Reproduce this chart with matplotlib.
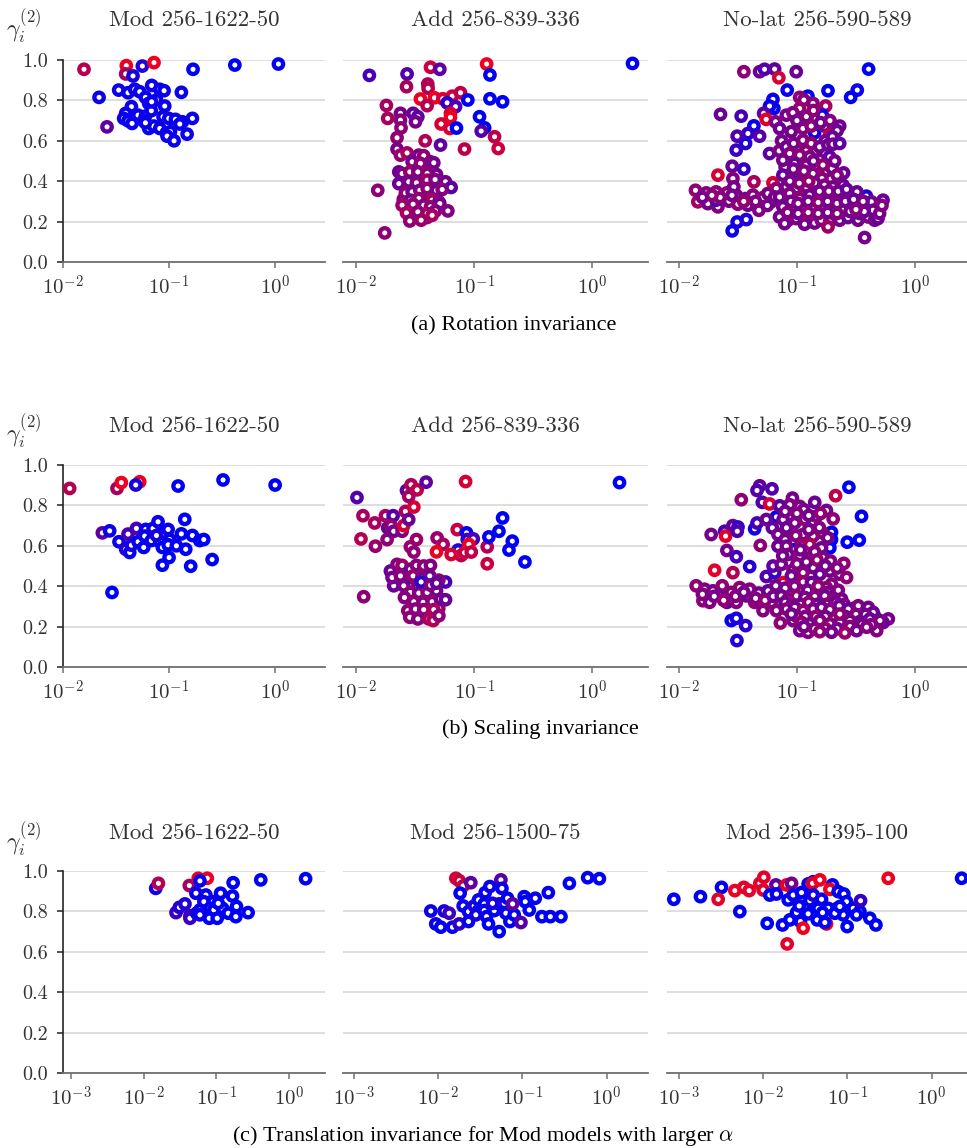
import numpy as np
import matplotlib
matplotlib.use("Agg")
import matplotlib.pyplot as plt
from matplotlib.colors import LinearSegmentedColormap
from matplotlib.ticker import NullLocator

plt.rcParams['mathtext.fontset'] = 'cm'
plt.rcParams['font.family'] = ['cmr10', 'DejaVu Serif']
plt.rcParams['axes.formatter.use_mathtext'] = True

# ---------------- data: (log10 x, gamma, redness) ----------------
rot_mod = [(-1.802, .954, .75), (-1.403, .972, 1), (-1.409, .931, .7), (-1.340, .921, .1),
           (-1.252, .970, .15), (-1.142, .987, 1), (-0.774, .954, 0), (-0.380, .975, 0),
           (0.031, .980, 0), (-1.660, .815, .05), (-1.585, .669, .4), (-1.475, .851, .05),
           (-1.387, .838, .05), (-1.324, .855, .05), (-1.277, .843, .05), (-1.164, .874, .05),
           (-1.088, .855, .05), (-1.047, .848, .05), (-0.884, .840, .05), (-1.223, .815, .05),
           (-1.192, .785, .05), (-1.119, .802, .05), (-1.355, .769, .05), (-1.409, .736, .05),
           (-1.428, .711, .05), (-1.387, .699, .05), (-1.349, .686, .05), (-1.292, .727, .05),
           (-1.223, .722, .05), (-1.239, .699, .05), (-1.167, .749, .05), (-1.041, .772, .05),
           (-1.057, .719, .05), (-1.003, .711, .05), (-0.940, .706, .05), (-0.874, .694, .05),
           (-0.899, .683, .05), (-0.780, .711, .05), (-1.192, .661, .05), (-1.145, .673, .05),
           (-1.088, .661, .05), (-1.025, .640, .05), (-0.987, .645, .05), (-1.019, .623, .05),
           (-0.953, .600, .05), (-0.830, .633, .05), (-1.223, .689, .05), (-1.164, .793, .05)]

rot_add = [(-1.887, .924, .3), (-1.568, .931, .35), (-1.573, .868, .7), (-1.370, .964, .85),
           (-1.291, .954, .4), (-1.393, .881, .75), (-1.390, .860, .75), (-0.895, .980, 1),
           (-0.867, .926, 0), (0.339, .983, 0), (-1.455, .807, 1), (-1.336, .813, 1),
           (-1.266, .808, .9), (-1.186, .821, .85), (-1.116, .838, .8), (-1.054, .802, 0),
           (-0.867, .808, 0), (-0.760, .793, 0), (-1.398, .774, .75), (-1.229, .788, .2),
           (-1.158, .769, .3), (-1.743, .775, .7), (-1.732, .711, .7), (-1.624, .736, .5),
           (-1.517, .736, .45), (-1.477, .719, .4), (-1.497, .694, .5), (-1.624, .702, .55),
           (-1.619, .664, .6), (-1.201, .736, .9), (-1.201, .716, 1), (-1.280, .683, .9),
           (-1.206, .661, .9), (-1.150, .663, 0), (-0.955, .719, 0), (-0.912, .664, 0),
           (-0.941, .648, .35), (-0.828, .620, .8), (-0.797, .562, .85), (-1.082, .559, .8),
           (-1.415, .600, .75), (-1.285, .579, .4), (-1.653, .615, .6), (-1.653, .559, .5),
           (-1.624, .529, .65), (-1.568, .540, .7), (-1.816, .355, .6), (-1.757, .144, .6),
           (-1.500, .420, .55), (-1.430, .460, .6), (-1.360, .450, .5), (-1.290, .370, .55),
           (-1.560, .370, .6), (-1.500, .270, .65), (-1.420, .260, .6), (-1.350, .280, .55),
           (-1.600, .310, .5), (-1.450, .330, .6), (-1.400, .220, .6), (-1.520, .220, .55),
           (-1.469, .529, .5), (-1.427, .526, .6), (-1.525, .496, .5), (-1.455, .488, .6),
           (-1.370, .496, .55), (-1.342, .491, .5), (-1.638, .446, .45), (-1.610, .438, .5),
           (-1.545, .446, .65), (-1.477, .446, .55), (-1.398, .438, .6), (-1.319, .433, .5),
           (-1.638, .388, .45), (-1.554, .397, .5), (-1.489, .392, .55), (-1.398, .405, .65),
           (-1.331, .408, .55), (-1.243, .397, .5), (-1.195, .369, .4), (-1.582, .342, .6),
           (-1.525, .347, .5), (-1.460, .355, .55), (-1.398, .364, .6), (-1.319, .355, .5),
           (-1.271, .359, .55), (-1.540, .306, .5), (-1.469, .314, .6), (-1.356, .306, .7),
           (-1.299, .298, .55), (-1.610, .281, .65), (-1.517, .286, .6), (-1.427, .281, .55),
           (-1.370, .273, .6), (-1.291, .289, .5), (-1.573, .243, .7), (-1.477, .248, .6),
           (-1.398, .240, .65), (-1.328, .253, .55), (-1.223, .253, .55), (-1.545, .203, .6),
           (-1.449, .207, .65), (-1.356, .231, .7)]

rot_nolat = [(-1.449, .942, .6), (-1.316, .942, .45), (-1.274, .954, .35), (-1.189, .955, .4),
             (-1.006, .942, .45), (-1.153, .912, .9), (-0.393, .955, 0), (-1.082, .851, .05),
             (-0.737, .848, 0), (-0.489, .851, .05), (-0.545, .815, 0), (-1.203, .805, .05),
             (-1.195, .760, .05), (-1.232, .772, .05), (-0.907, .821, 0), (-1.647, .731, .45),
             (-1.472, .722, .3), (-1.282, .736, .4), (-1.260, .706, .95), (-1.364, .674, .05),
             (-1.415, .636, .2), (-1.316, .623, .35), (-1.506, .623, .35), (-1.435, .587, .15),
             (-1.514, .554, .25), (-1.232, .537, .4), (-1.548, .474, .45), (-1.449, .460, .2),
             (-1.669, .430, .9), (-1.542, .413, .55), (-1.364, .397, .7), (-1.203, .392, .9),
             (-1.548, .154, .05), (-1.506, .198, .1), (-1.429, .210, .15), (-0.427, .121, .5),
             (-0.271, .306, .45), (-0.412, .326, .15),
             (-1.859, .355, .6), (-1.839, .298, .7), (-1.768, .342, .55), (-1.754, .289, .5),
             (-1.684, .347, .6), (-1.669, .273, .55), (-1.684, .306, .35), (-1.593, .342, .6),
             (-1.576, .301, .5), (-1.514, .331, .55), (-1.500, .286, .6), (-1.435, .314, .45),
             (-1.415, .281, .5), (-1.373, .331, .55), (-1.322, .256, .55), (-1.288, .319, .6),
             (-1.246, .339, .5), (-1.218, .298, .55), (-1.175, .364, .6), (-1.189, .322, .5),
             (-1.534, .372, .5), (-1.250, .280, .5), (-1.350, .300, .55), (-1.450, .300, .6),
             (-1.550, .330, .5), (-1.650, .320, .55), (-1.720, .330, .6), (-1.800, .320, .5),
             (-0.977, .815, .6), (-0.941, .802, .55), (-0.864, .785, .55), (-0.757, .772, .7),
             (-0.977, .760, .65), (-1.090, .727, .5), (-1.034, .739, .55), (-0.836, .711, .65),
             (-0.774, .711, .5), (-0.785, .727, .1), (-0.850, .640, .1), (-1.181, .694, .55),
             (-1.147, .661, .45), (-1.048, .645, .5), (-0.949, .661, .55), (-0.879, .673, .6),
             (-0.766, .673, .5), (-0.638, .673, .45), (-0.723, .628, .85),
             (-1.000, .700, .5), (-0.920, .720, .55), (-0.860, .750, .6), (-0.800, .690, .5),
             (-0.720, .700, .55), (-0.660, .650, .45), (-1.130, .600, .5), (-1.100, .470, .5),
             (-1.150, .550, .55), (-1.000, .560, .5), (-0.920, .550, .6), (-0.840, .550, .55),
             (-0.760, .600, .5), (-0.700, .620, .45),
             (-1.090, .570, .45), (-1.028, .587, .5), (-0.949, .603, .55), (-0.879, .587, .6),
             (-0.808, .570, .5), (-0.737, .579, .45), (-0.695, .583, .5), (-0.638, .587, .4),
             (-1.062, .537, .55), (-0.977, .529, .6), (-0.893, .521, .55), (-0.808, .507, .5),
             (-0.723, .521, .4), (-1.119, .504, .5), (-1.020, .488, .45), (-0.921, .479, .55),
             (-0.836, .463, .6), (-0.751, .451, .5), (-0.701, .463, .5), (-0.605, .441, .45),
             (-1.119, .430, .4), (-1.028, .397, .15), (-0.949, .425, .5), (-0.864, .438, .55),
             (-0.788, .413, .6), (-1.030, .460, .5), (-0.940, .450, .55), (-0.860, .500, .5),
             (-0.780, .480, .6), (-0.680, .500, .5), (-0.660, .430, .55),
             (-1.090, .372, .5), (-1.006, .364, .55), (-0.921, .372, .6), (-0.850, .392, .5),
             (-0.766, .380, .55), (-0.695, .372, .5), (-0.610, .380, .45), (-1.147, .322, .5),
             (-1.062, .339, .55), (-0.977, .314, .6), (-0.893, .331, .5), (-0.808, .314, .55),
             (-0.723, .322, .5), (-0.638, .309, .45), (-0.568, .331, .5), (-0.492, .347, .45),
             (-1.060, .400, .5), (-0.980, .390, .55), (-0.900, .400, .6), (-0.810, .350, .5),
             (-0.730, .350, .55), (-0.650, .350, .5), (-0.580, .360, .45),
             (-1.119, .273, .5), (-1.034, .264, .55), (-0.949, .273, .5), (-0.864, .264, .55),
             (-0.780, .273, .6), (-0.695, .281, .5), (-0.610, .264, .45), (-0.525, .276, .5),
             (-0.446, .286, .55), (-0.370, .298, .5), (-1.147, .223, .5), (-1.076, .207, .45),
             (-1.006, .215, .55), (-0.921, .207, .6), (-0.850, .193, .5), (-0.794, .207, .55),
             (-0.723, .198, .6), (-0.638, .207, .5), (-0.568, .220, .45), (-0.483, .207, .5),
             (-0.398, .223, .55), (-0.342, .207, .5), (-0.314, .215, .45), (-1.104, .190, .5),
             (-0.737, .174, .65), (-0.935, .187, .5), (-0.469, .240, .45), (-0.356, .256, .5),
             (-1.050, .300, .5), (-0.990, .290, .55), (-0.905, .300, .5), (-0.820, .295, .6),
             (-0.740, .300, .5), (-0.660, .290, .55), (-0.590, .300, .5), (-0.520, .310, .45),
             (-1.080, .245, .55), (-0.990, .240, .5), (-0.905, .245, .6), (-0.820, .240, .55),
             (-0.740, .245, .5), (-0.660, .240, .55), (-0.550, .250, .5), (-0.430, .250, .45),
             (-0.300, .240, .5), (-0.280, .280, .55), (-0.440, .300, .5), (-0.500, .260, .55)]

scale_mod = [(-1.937, .884, .75), (-1.491, .884, .7), (-1.450, .913, 1), (-1.277, .917, 1),
             (-1.314, .901, .1), (-0.915, .896, 0), (-0.491, .926, 0), (0.0, .901, 0),
             (-0.852, .731, 0), (-1.629, .664, .4), (-1.560, .674, .05), (-1.472, .620, .05),
             (-1.409, .583, .15), (-1.371, .567, .05), (-1.387, .658, .3), (-1.308, .686, .3),
             (-1.355, .603, .1), (-1.292, .620, .05), (-1.239, .592, 0), (-1.220, .681, .05),
             (-1.230, .648, .05), (-1.151, .686, .05), (-1.104, .719, .05), (-1.167, .626, .05),
             (-1.088, .620, .05), (-1.057, .664, 0), (-1.009, .681, .05), (-0.994, .631, .05),
             (-1.063, .592, 0), (-1.009, .605, 0), (-0.931, .600, .05), (-0.884, .659, 0),
             (-0.843, .583, 0), (-0.780, .651, 0), (-0.711, .626, 0), (-0.673, .631, 0),
             (-1.000, .542, 0), (-1.063, .504, 0), (-0.796, .499, 0), (-0.594, .532, 0),
             (-1.538, .369, 0), (-1.119, .651, .1)]

scale_add = [(-1.992, .839, .35), (-1.941, .749, .7), (-1.958, .634, .75), (-1.836, .598, .65),
             (-1.842, .713, .7), (-1.751, .749, .7), (-1.737, .631, .6), (-1.732, .689, .45),
             (-1.686, .749, .35), (-1.703, .700, .6), (-1.681, .672, .5), (-1.610, .672, .55),
             (-1.596, .700, .9), (-1.582, .770, .7), (-1.554, .730, .45), (-1.511, .792, .9),
             (-1.573, .874, .4), (-1.534, .902, .75), (-1.483, .877, .8), (-1.554, .844, .7),
             (-1.407, .915, .4), (-1.073, .918, .9), (0.229, .913, 0), (-1.489, .631, .65),
             (-1.540, .595, .65), (-1.511, .569, .6), (-1.314, .639, .65), (-1.263, .607, .7),
             (-1.319, .570, 1), (-1.144, .680, .85), (-1.065, .664, 0), (-1.059, .631, .2),
             (-1.008, .634, .3), (-1.136, .579, .15), (-1.110, .552, .8), (-1.195, .557, .9),
             (-1.082, .566, .85), (-1.045, .607, 1), (-1.025, .569, .8), (-0.890, .595, .75),
             (-0.876, .644, 0), (-0.791, .672, 0), (-0.760, .738, 0), (-0.678, .623, 0),
             (-0.706, .579, 0), (-0.571, .520, 0), (-0.890, .511, .85), (-1.935, .348, .6),
             (-1.243, .421, .3),
             (-1.650, .430, .5), (-1.570, .460, .55), (-1.470, .470, .6), (-1.400, .420, .5),
             (-1.300, .430, .55), (-1.550, .400, .6), (-1.480, .390, .5), (-1.420, .350, .55),
             (-1.360, .350, .6), (-1.520, .300, .55), (-1.460, .300, .6), (-1.390, .300, .5),
             (-1.300, .290, .65), (-1.430, .250, .6), (-1.500, .260, .55),
             (-1.709, .475, .45), (-1.653, .508, .55), (-1.610, .503, .65), (-1.681, .402, .45),
             (-1.695, .443, .5), (-1.624, .451, .55), (-1.540, .484, .5), (-1.489, .503, .55),
             (-1.427, .500, .6), (-1.370, .503, .55), (-1.596, .402, .5), (-1.517, .451, .6),
             (-1.441, .443, .55), (-1.376, .451, .5), (-1.540, .369, .6), (-1.469, .366, .55),
             (-1.398, .369, .6), (-1.319, .377, .5), (-1.449, .421, .2), (-1.370, .405, .55),
             (-1.319, .415, .45), (-1.590, .344, .55), (-1.511, .323, .6), (-1.432, .320, .55),
             (-1.356, .323, .6), (-1.285, .336, .5), (-1.243, .333, .45), (-1.562, .279, .6),
             (-1.497, .287, .55), (-1.427, .284, .6), (-1.342, .284, .7), (-1.545, .246, .6),
             (-1.477, .238, .55), (-1.384, .238, .7), (-1.347, .230, .75), (-1.299, .254, .6)]

scale_nolat = [(-1.315, .897, .4), (-1.338, .874, .35), (-1.211, .882, .35), (-1.471, .828, .6),
               (-1.293, .815, .35), (-1.231, .807, .9), (-0.560, .890, 0), (-0.673, .848, .8),
               (-0.453, .746, 0), (-1.726, .656, .5), (-1.612, .672, .3), (-1.604, .648, .95),
               (-1.542, .700, .45), (-1.499, .693, .2), (-1.505, .672, .35), (-1.358, .684, .1),
               (-1.338, .713, .3), (-1.310, .602, .6), (-1.593, .577, .5), (-1.513, .546, .3),
               (-1.400, .497, .15), (-1.697, .479, .95), (-1.542, .467, .75), (-1.174, .743, .05),
               (-1.033, .626, 0), (-0.707, .667, 0), (-0.707, .631, 0), (-0.721, .590, 0),
               (-0.574, .618, 0), (-0.472, .628, 0), (-1.556, .230, .05), (-1.513, .241, .1),
               (-1.434, .205, .2), (-1.508, .131, .15), (-1.140, .218, .6), (-1.117, .418, .95),
               (-0.226, .238, .5),
               (-1.853, .402, .6), (-1.782, .385, .55), (-1.796, .328, .6), (-1.711, .377, .5),
               (-1.739, .320, .55), (-1.632, .402, .6), (-1.655, .352, .5), (-1.593, .320, .45),
               (-1.556, .369, .55), (-1.485, .393, .6), (-1.513, .320, .55), (-1.429, .352, .5),
               (-1.400, .385, .55), (-1.358, .320, .6), (-1.324, .366, .5), (-1.287, .279, .55),
               (-1.245, .377, .45), (-1.216, .320, .6), (-1.259, .448, .35), (-1.188, .467, .25),
               (-1.179, .402, .5), (-1.174, .279, .55),
               (-1.800, .360, .55), (-1.700, .350, .5), (-1.620, .330, .6), (-1.520, .350, .55),
               (-1.450, .370, .5), (-1.350, .340, .55), (-1.270, .330, .6), (-1.200, .350, .5),
               (-1.038, .836, .5), (-1.061, .803, .55), (-1.146, .798, .4), (-0.976, .795, .55),
               (-0.942, .779, .5), (-0.849, .815, .45), (-0.750, .775, .5), (-0.693, .733, .6),
               (-1.117, .730, .5), (-1.259, .730, .45), (-1.208, .689, .4), (-1.089, .689, .45),
               (-1.018, .713, .5), (-0.933, .730, .6), (-0.863, .721, .4), (-0.835, .746, .55),
               (-1.160, .656, .5), (-0.948, .656, .6), (-0.863, .648, .5), (-0.784, .664, .65),
               (-1.100, .770, .5), (-1.000, .760, .55), (-0.900, .750, .5), (-0.800, .760, .6),
               (-1.100, .630, .5), (-1.010, .650, .55), (-0.900, .680, .5), (-0.810, .690, .55),
               (-0.740, .640, .5),
               (-1.160, .598, .45), (-1.089, .598, .5), (-0.962, .602, .6), (-0.891, .607, .7),
               (-0.792, .590, .5), (-1.075, .557, .5), (-0.976, .541, .6), (-0.891, .541, .55),
               (-0.778, .541, .5), (-0.716, .525, .55), (-0.603, .513, .6), (-1.202, .500, .4),
               (-1.132, .508, .5), (-1.033, .480, .55), (-0.948, .467, .6), (-0.863, .492, .5),
               (-0.806, .459, .45), (-0.721, .475, .5), (-0.637, .459, .55), (-0.580, .443, .6),
               (-1.047, .451, .5), (-0.948, .421, .65), (-0.877, .418, .45), (-0.707, .410, .55),
               (-0.750, .393, .6), (-0.970, .580, .5), (-0.850, .570, .55), (-1.120, .550, .5),
               (-1.000, .510, .55), (-0.920, .520, .5), (-0.830, .530, .6), (-0.760, .500, .5),
               (-0.660, .490, .55),
               (-1.100, .390, .5), (-1.020, .400, .55), (-0.910, .380, .5), (-0.820, .400, .6),
               (-0.740, .370, .5), (-0.650, .380, .55),
               (-1.132, .352, .5), (-1.075, .336, .55), (-1.004, .352, .6), (-0.933, .344, .5),
               (-0.849, .349, .55), (-0.764, .352, .5), (-0.693, .333, .55), (-0.622, .336, .5),
               (-1.100, .320, .5), (-1.040, .310, .55), (-0.970, .310, .5), (-0.900, .320, .6),
               (-0.830, .310, .5), (-0.750, .310, .55), (-0.670, .320, .5), (-0.600, .310, .55),
               (-0.520, .290, .5), (-0.440, .280, .55), (-0.340, .250, .5),
               (-1.089, .287, .55), (-1.018, .295, .5), (-0.948, .279, .6), (-0.863, .287, .55),
               (-0.792, .295, .5), (-0.721, .284, .55), (-0.642, .303, .5), (-0.566, .287, .45),
               (-0.481, .303, .55), (-0.396, .295, .5), (-0.354, .270, .45), (-1.033, .230, .55),
               (-1.000, .250, .5), (-0.930, .250, .55), (-0.840, .250, .6), (-0.760, .250, .5),
               (-0.680, .240, .55), (-0.590, .250, .5), (-0.500, .260, .55), (-0.420, .260, .5),
               (-0.270, .220, .45),
               (-0.962, .221, .6), (-0.891, .213, .5), (-0.806, .230, .55), (-0.721, .213, .6),
               (-0.637, .221, .5), (-0.552, .230, .55), (-0.467, .225, .5), (-0.382, .238, .45),
               (-0.297, .230, .5), (-0.325, .180, .55), (-0.976, .180, .5), (-0.906, .172, .55),
               (-0.940, .200, .5), (-0.850, .190, .55), (-0.760, .190, .6), (-0.660, .190, .5),
               (-0.550, .200, .55), (-0.450, .210, .5), (-0.370, .210, .55),
               (-0.806, .175, .6), (-0.707, .172, .5), (-0.594, .169, .65), (-0.495, .180, .5),
               (-0.410, .197, .55), (-1.047, .262, .5), (-0.637, .262, .6)]

trans_50 = [(-1.834, .914, .1), (-1.797, .939, .75), (-1.372, .928, .7), (-1.249, .964, 1),
            (-1.125, .964, 1), (-1.226, .951, .05), (-0.769, .942, 0), (-0.389, .956, 0),
            (0.228, .962, 0), (-1.281, .890, .05), (-1.144, .881, .05), (-0.942, .890, 0),
            (-0.778, .876, 0), (-1.555, .794, .25), (-1.509, .820, .15), (-1.432, .837, .15),
            (-1.363, .778, .2), (-1.363, .766, .25), (-1.272, .791, .1), (-1.226, .807, .05),
            (-1.171, .848, .05), (-1.043, .848, .05), (-1.089, .815, 0), (-1.226, .783, .05),
            (-1.034, .807, .05), (-1.098, .766, 0), (-0.988, .766, 0), (-0.915, .815, 0),
            (-0.837, .791, 0), (-0.723, .824, 0), (-0.732, .774, 0), (-0.563, .794, 0),
            (-0.974, .840, 0)]

trans_75 = [(-1.791, .964, .9), (-1.751, .952, .85), (-1.704, .926, .8), (-1.613, .942, .4),
            (-1.256, .956, .35), (-1.244, .914, .05), (-1.740, .890, 0), (-1.442, .893, .05),
            (-1.387, .923, .05), (-0.443, .939, 0), (-0.226, .967, 0), (-0.087, .962, 0),
            (-0.693, .893, 0), (-0.848, .865, .05), (-0.979, .873, 0), (-0.967, .848, 0),
            (-0.919, .807, 0), (-0.769, .774, 0), (-0.669, .774, 0), (-0.543, .774, 0),
            (-2.088, .802, .05), (-1.930, .802, .1), (-1.870, .791, .25), (-2.029, .738, .05),
            (-1.970, .722, 0), (-1.831, .722, .05), (-1.751, .738, .2), (-1.704, .827, .05),
            (-1.640, .799, .05), (-1.640, .750, .05), (-1.573, .827, .1), (-1.522, .857, .05),
            (-1.522, .804, 0), (-1.553, .783, .1), (-1.454, .837, 0), (-1.454, .804, 0),
            (-1.426, .774, .05), (-1.403, .738, 0), (-1.335, .804, 0), (-1.276, .837, 0),
            (-1.276, .700, 0), (-1.216, .840, .1), (-1.197, .791, .05), (-1.177, .865, 0),
            (-1.149, .750, 0), (-1.098, .783, 0), (-1.117, .837, .4), (-1.018, .745, .35),
            (-1.355, .840, .1)]

trans_100 = [(-3.059, .860, 0), (-2.743, .873, 0), (-2.493, .919, 0), (-2.533, .860, .95),
             (-2.335, .903, 1), (-2.228, .919, .95), (-2.165, .903, .95), (-2.276, .799, 0),
             (-2.038, .939, .95), (-1.991, .969, .95), (-1.999, .906, .95), (-1.848, .931, .4),
             (-1.722, .931, 1), (-1.662, .939, .5), (-1.920, .881, 0), (-1.841, .886, .05),
             (-1.951, .741, 0), (-1.769, .733, 0), (-1.714, .639, .95), (-1.702, .857, 0),
             (-1.643, .881, .05), (-1.544, .893, 0), (-1.465, .936, .05), (-1.405, .947, 0),
             (-1.413, .939, .9), (-1.326, .956, 1), (-1.682, .758, 0), (-1.603, .794, 0),
             (-1.556, .750, 0), (-1.524, .717, 1), (-1.571, .827, .05), (-1.445, .853, 0),
             (-1.425, .791, 0), (-1.405, .881, .1), (-1.346, .815, 0), (-1.306, .860, .05),
             (-1.358, .758, 0), (-1.247, .738, 1), (-1.267, .745, .05), (-1.227, .815, 0),
             (-1.176, .931, 0), (-1.207, .909, 1), (-1.108, .898, 0), (-1.120, .815, 0),
             (-1.041, .886, 0), (-1.010, .848, 0), (-1.049, .783, 0), (-1.002, .725, 0),
             (-0.930, .815, 0), (-0.851, .799, 0), (-0.843, .853, .2), (-0.891, .783, 0),
             (-0.733, .766, 0), (-0.661, .733, 0), (-0.515, .964, 1), (0.356, .964, 0),
             (-1.465, .788, 0), (-1.294, .794, 0), (-1.148, .791, 0), (-1.089, .824, 0)]

titles = [["Mod 256-1622-50", "Add 256-839-336", "No-lat 256-590-589"],
          ["Mod 256-1622-50", "Add 256-839-336", "No-lat 256-590-589"],
          ["Mod 256-1622-50", "Mod 256-1500-75", "Mod 256-1395-100"]]
captions = ["(a) Rotation invariance", "(b) Scaling invariance",
            r"(c) Translation invariance for Mod models with larger $\alpha$"]
y_ticks = [0.0, 0.2, 0.4, 0.6, 0.8, 1.0]
y_ticklabels = ["0.0", "0.2", "0.4", "0.6", "0.8", "1.0"]
x_ticks_ab = [1e-2, 1e-1, 1e0]
x_ticklabels_ab = [r"$10^{-2}$", r"$10^{-1}$", r"$10^{0}$"]
x_ticks_c = [1e-3, 1e-2, 1e-1, 1e0]
x_ticklabels_c = [r"$10^{-3}$", r"$10^{-2}$", r"$10^{-1}$", r"$10^{0}$"]

panels = [[rot_mod, rot_add, rot_nolat],
          [scale_mod, scale_add, scale_nolat],
          [trans_50, trans_75, trans_100]]

# ---------------- layout (pixels) ----------------
W, H = 967, 1148
fig = plt.figure(figsize=(W / 100, H / 100), dpi=100)
cols_px = [(63, 325), (343, 648), (667, 967)]
rows_px = [(60, 262), (465, 667), (871, 1073)]
xlims = [[(-2.0, 0.47), (-2.11, 0.47), (-2.10, 0.44)],
         [(-2.0, 0.47), (-2.11, 0.47), (-2.10, 0.44)],
         [(-3.11, 0.495), (-3.13, 0.49), (-3.14, 0.42)]]
title_y = [20, 426, 833]
gamma_y = [27, 432, 840]
caption_pos = [(514, 326), (540, 729), (483, 1136)]

cmap = LinearSegmentedColormap.from_list("br", ["#0000f5", "#ee0020"])

for ri in range(3):
    top, bot = rows_px[ri]
    for ci in range(3):
        l, r = cols_px[ci]
        ax = fig.add_axes([l / W, 1 - bot / H, (r - l) / W, (bot - top) / H])
        ax.set_xscale('log')
        lo, hi = xlims[ri][ci]
        ax.set_xlim(10 ** lo, 10 ** hi)
        ax.set_ylim(0, 1.0)
        ax.set_axisbelow(True)
        ax.yaxis.grid(True, color='#d4d4d4', lw=1.1)
        for s in ['top', 'right']:
            ax.spines[s].set_visible(False)
        ax.spines['bottom'].set_color('#707070')
        ax.spines['bottom'].set_linewidth(1.3)
        if ri < 2:
            ax.set_xticks(x_ticks_ab, x_ticklabels_ab)
        else:
            ax.set_xticks(x_ticks_c, x_ticklabels_c)
        ax.xaxis.set_minor_locator(NullLocator())
        ax.tick_params(axis='x', length=4, width=1.1, color='#707070',
                       labelsize=15, labelcolor='#333333', pad=5)
        ax.set_yticks(y_ticks, y_ticklabels)
        if ci == 0:
            ax.spines['left'].set_color('#222222')
            ax.spines['left'].set_linewidth(1.2)
            ax.tick_params(axis='y', length=4, width=1.1, color='#222222',
                           labelsize=14.5, labelcolor='#333333', pad=7)
        else:
            ax.spines['left'].set_visible(False)
            ax.tick_params(axis='y', left=False, labelleft=False)

        data = np.array(panels[ri][ci], dtype=float)
        lx, gy, red = data[:, 0], data[:, 1], data[:, 2]
        ax.scatter(10 ** lx, gy, s=46, facecolors='white', edgecolors=cmap(red),
                   linewidths=3.1, clip_on=False, zorder=3)

        fig.text((l + r) / 2 / W, 1 - title_y[ri] / H, titles[ri][ci],
                 ha='center', va='center', fontsize=16.5, color='#333333')
    fig.text(24 / W, 1 - gamma_y[ri] / H, r"$\gamma_i^{(2)}$", ha='center', va='center',
             fontsize=17, color='#333333')
    cx, cy = caption_pos[ri]
    fig.text(cx / W, 1 - cy / H, captions[ri], ha='center', va='center',
             fontsize=16, color='black', family=['Liberation Serif'], math_fontfamily='cm')

fig.savefig("out.png", dpi=100)
